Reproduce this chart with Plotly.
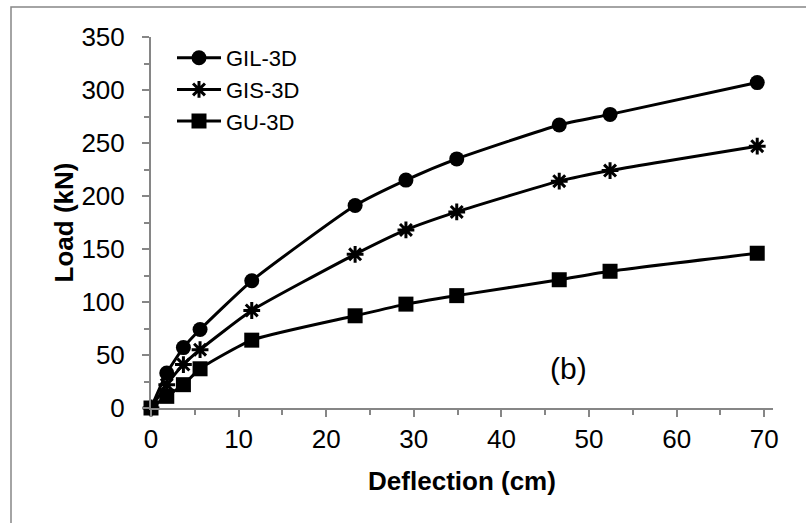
import plotly.graph_objects as go

deflection = [0, 1.8, 3.7, 5.6, 11.5, 23.3, 29.1, 34.9, 46.6, 52.4, 69.2]
gil_3d = [0, 33, 57, 74, 120, 191, 215, 235, 267, 277, 307]
gis_3d = [0, 22, 41, 55, 92, 145, 168, 185, 214, 224, 247]
gu_3d = [0, 11, 22, 37, 64, 87, 98, 106, 121, 129, 146]

series = [
    ("GIL-3D", gil_3d, dict(symbol="circle", size=15, color="black")),
    ("GIS-3D", gis_3d, dict(symbol="asterisk-open", size=14, color="black",
                            line=dict(color="black", width=3))),
    ("GU-3D", gu_3d, dict(symbol="square", size=15, color="black")),
]

FONT = "Liberation Sans, Arial, sans-serif"
AX = "#868686"

fig = go.Figure()
for name, vals, mk in series:
    fig.add_trace(go.Scatter(
        x=deflection, y=vals, name=name, mode="lines+markers",
        line=dict(color="black", width=3, shape="spline", smoothing=0.5),
        marker=mk, cliponaxis=False,
    ))

L, R, T, B = 151, 33, 37, 115
W, H = 806, 523
pw, ph = W - L - R, H - T - B

fig.update_layout(
    width=W, height=H, autosize=False,
    margin=dict(l=L, r=R, t=T, b=B, pad=0),
    paper_bgcolor="white", plot_bgcolor="white",
    font=dict(family=FONT, size=26, color="black"),
    showlegend=True,
    legend=dict(x=(172 - L) / pw, y=(H - B - 37) / ph, xanchor="left", yanchor="top",
                bgcolor="rgba(0,0,0,0)", font=dict(size=22),
                tracegroupgap=0, itemwidth=44),
    shapes=[dict(type="rect", xref="paper", yref="paper",
                 x0=(11 - L) / pw, x1=5, y0=-5, y1=(H - B - 7) / ph,
                 line=dict(color=AX, width=1.5), layer="below")],
    annotations=[dict(text="(b)", x=47.6, y=37, xref="x", yref="y",
                      showarrow=False, font=dict(size=30, family=FONT))],
)
fig.update_xaxes(
    range=[0, 71], showgrid=False, zeroline=False,
    showline=True, linecolor=AX, linewidth=2,
    ticks="outside", tickcolor=AX, tickwidth=2, ticklen=7,
    tick0=0, dtick=10,
    minor=dict(ticks="outside", dtick=5, ticklen=5, tickcolor=AX, tickwidth=2),
    tickfont=dict(size=26),
    title=dict(text="<b>Deflection (cm)</b>", font=dict(size=26), standoff=19),
)
fig.update_yaxes(
    range=[0, 350], showgrid=False, zeroline=False,
    showline=True, linecolor=AX, linewidth=2,
    ticks="outside", tickcolor=AX, tickwidth=2, ticklen=7,
    tick0=0, dtick=50,
    minor=dict(ticks="outside", dtick=25, ticklen=5, tickcolor=AX, tickwidth=2),
    tickfont=dict(size=26), ticklabelstandoff=12,
    title=dict(text="<b>Load (kN)</b>", font=dict(size=26), standoff=0),
)

fig.write_html("out.html")
